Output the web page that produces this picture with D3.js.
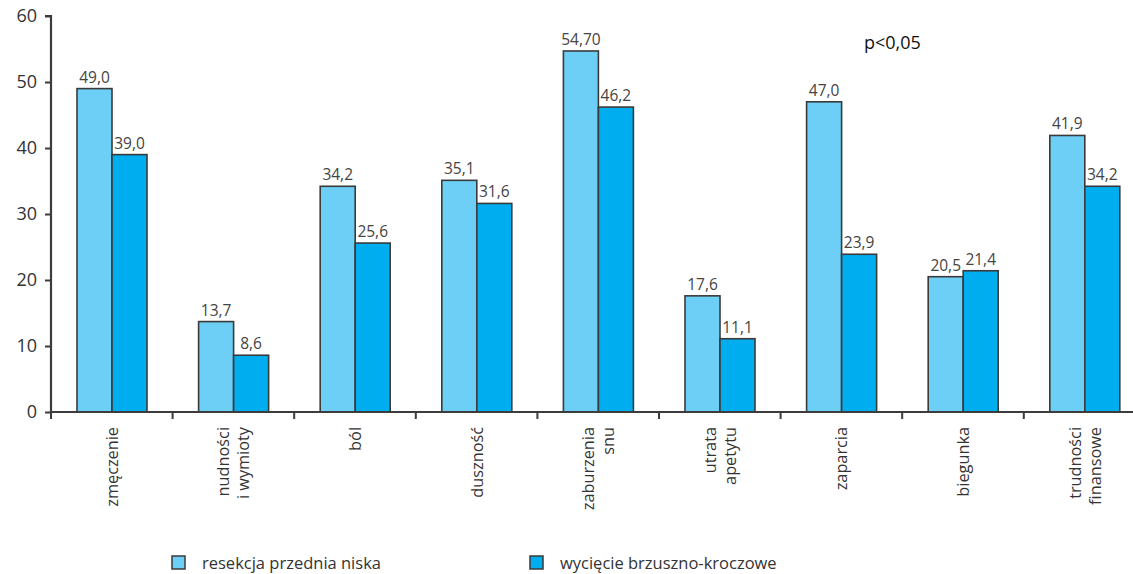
<!DOCTYPE html>
<html>
<head>
<meta charset="utf-8">
<script src="https://cdn.jsdelivr.net/npm/d3@7"></script>
<style>
  html, body { margin: 0; padding: 0; background: #fff; }
  svg { display: block; font-family: "Open Sans", "Noto Sans", sans-serif; }
</style>
</head>
<body>
<svg id="chart" width="1133" height="574"></svg>
<script>
// Symptom categories (multi-line labels split on "\n")
const categories = [
  "zmęczenie", "nudności\ni wymioty", "ból", "duszność", "zaburzenia\nsnu",
  "utrata\napetytu", "zaparcia", "biegunka", "trudności\nfinansowe"
];
const seriesNames = ["resekcja przednia niska", "wycięcie brzuszno-kroczowe"];
const valuesLAR = [49.0, 13.7, 34.2, 35.1, 54.70, 17.6, 47.0, 20.5, 41.9];
const valuesAPR = [39.0, 8.6, 25.6, 31.6, 46.2, 11.1, 23.9, 21.4, 34.2];
// Printed labels (keeps the original formatting, e.g. "54,70")
const labelsLAR = ["49,0", "13,7", "34,2", "35,1", "54,70", "17,6", "47,0", "20,5", "41,9"];
const labelsAPR = ["39,0", "8,6", "25,6", "31,6", "46,2", "11,1", "23,9", "21,4", "34,2"];
const yTicks = [0, 10, 20, 30, 40, 50, 60];
const note = "p<0,05";

const colors = ["#6dcff6", "#00aeef"];
const svg = d3.select("#chart");

const x0 = 51, bandW = 121.6;
const x = d3.scaleBand().domain(categories.map((d, i) => i))
  .range([x0, x0 + bandW * categories.length]).paddingInner(0).paddingOuter(0);
const xs = d3.scaleBand().domain([0, 1]).range([26, 96]).padding(0);
const y = d3.scaleLinear().domain([0, 60]).range([412, 16]);

const series = [
  { vals: valuesLAR, labels: labelsLAR },
  { vals: valuesAPR, labels: labelsAPR }
];

// Bars
series.forEach((s, si) => {
  const g = svg.append("g");
  g.selectAll("rect").data(s.vals).join("rect")
    .attr("x", (d, i) => x(i) + xs(si))
    .attr("y", d => y(d))
    .attr("width", xs.bandwidth())
    .attr("height", d => y(0) - y(d))
    .attr("fill", colors[si])
    .attr("stroke", "#3a3a3a")
    .attr("stroke-width", 1.6);
  g.selectAll("text").data(s.vals).join("text")
    .attr("x", (d, i) => x(i) + xs(si) + xs.bandwidth() / 2)
    .attr("y", d => y(d) - 6)
    .attr("text-anchor", "middle")
    .attr("font-size", 15.5)
    .attr("fill", "#444")
    .text((d, i) => s.labels[i]);
});

// Y axis
const yAxis = svg.append("g").attr("transform", `translate(${x0},0)`)
  .call(d3.axisLeft(y).tickValues(yTicks).tickSize(6).tickPadding(8).tickFormat(d3.format("d")));
yAxis.select(".domain").attr("stroke", "#3c3c3c").attr("stroke-width", 2.2)
  .attr("d", `M-6,${y(60)}H0V${y(0)}`);
yAxis.selectAll(".tick line").attr("stroke", "#3c3c3c").attr("stroke-width", 2);
yAxis.selectAll(".tick text").attr("font-size", 18).attr("fill", "#333")
  .attr("font-family", "\"Open Sans\", sans-serif");

// X axis: baseline with ticks at category boundaries
const xb = svg.append("g");
xb.append("line").attr("x1", x0).attr("x2", x0 + bandW * categories.length)
  .attr("y1", y(0)).attr("y2", y(0)).attr("stroke", "#3c3c3c").attr("stroke-width", 2.2);
xb.selectAll("line.tk").data(d3.range(categories.length + 1)).join("line")
  .attr("class", "tk")
  .attr("x1", i => x0 + i * bandW).attr("x2", i => x0 + i * bandW)
  .attr("y1", y(0)).attr("y2", y(0) + 7)
  .attr("stroke", "#3c3c3c").attr("stroke-width", 2);

// Category labels, rotated
categories.forEach((c, i) => {
  const lines = c.split("\n");
  const cx = x(i) + x.bandwidth() / 2;
  lines.forEach((ln, li) => {
    const off = (li - (lines.length - 1) / 2) * 20;
    svg.append("text")
      .attr("transform", `translate(${cx + off + 6},427) rotate(-90)`)
      .attr("text-anchor", "end")
      .attr("font-size", 16.3)
      .attr("fill", "#333")
      .text(ln);
  });
});

// Significance note
svg.append("text").attr("x", 864).attr("y", 49)
  .attr("font-size", 18).attr("fill", "#111").text(note);

// Legend
const legendX = [172, 530];
seriesNames.forEach((n, i) => {
  svg.append("rect").attr("x", legendX[i]).attr("y", 556)
    .attr("width", 13).attr("height", 13)
    .attr("fill", colors[i]).attr("stroke", "#3a3a3a").attr("stroke-width", 1.5);
  svg.append("text").attr("x", legendX[i] + 30).attr("y", 569)
    .attr("font-size", 16.5).attr("fill", "#333").text(n);
});
</script>
</body>
</html>
